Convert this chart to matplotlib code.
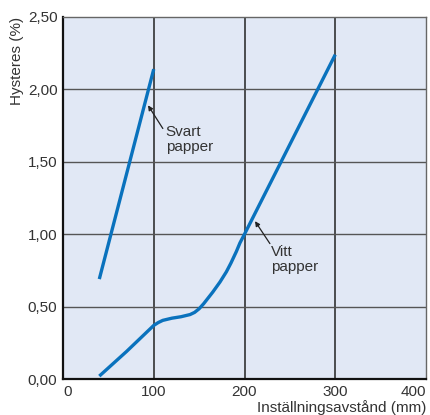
import matplotlib
matplotlib.use("Agg")
import matplotlib.pyplot as plt

# Hysteresis versus setting distance for black and white paper
svart_x = [40, 100]
svart_y = [0.69, 2.14]

vitt_x = [40, 70, 100, 105, 110, 120, 130, 140, 145, 150, 155, 160, 165, 173, 180,
          185, 191, 195, 200, 250, 300]
vitt_y = [0.02, 0.19, 0.37, 0.39, 0.405, 0.42, 0.43, 0.445, 0.46, 0.485, 0.52, 0.56,
          0.60, 0.67, 0.74, 0.80, 0.88, 0.94, 1.00, 1.62, 2.24]

x_ticks = [0, 100, 200, 300, 400]
x_tick_labels = ["0", "100", "200", "300", "400"]
y_ticks = [0.0, 0.5, 1.0, 1.5, 2.0, 2.5]
y_tick_labels = ["0,00", "0,50", "1,00", "1,50", "2,00", "2,50"]

plt.rcParams["font.family"] = ["Liberation Sans", "DejaVu Sans"]
text_col = "#333333"
line_col = "#0a72bd"
fs = 11

fig = plt.figure(figsize=(4.30, 4.15), dpi=100)
ax = fig.add_axes([63 / 430, 1 - 379 / 415, 363 / 430, 362 / 415])
ax.set_facecolor("#e1e8f5")
ax.set_xlim(0, 400)
ax.set_ylim(0, 2.5)

# grid
for xv in x_ticks[1:-1]:
    ax.axvline(xv, color="#222222", lw=1.1, zorder=1)
for yv in y_ticks[1:-1]:
    ax.axhline(yv, color="#555555", lw=1.0, zorder=1)

ax.plot(svart_x, svart_y, color=line_col, lw=2.4, solid_capstyle="butt", zorder=3)
ax.plot(vitt_x, vitt_y, color=line_col, lw=2.4, solid_capstyle="butt",
        solid_joinstyle="round", zorder=3)

for side in ["left", "bottom"]:
    ax.spines[side].set_color("#111111")
    ax.spines[side].set_linewidth(1.6)
for side in ["top", "right"]:
    ax.spines[side].set_color("#666666")
    ax.spines[side].set_linewidth(1.0)

ax.set_xticks(x_ticks)
ax.set_xticklabels(x_tick_labels)
ax.set_yticks(y_ticks)
ax.set_yticklabels(y_tick_labels)
ax.tick_params(length=0, labelsize=fs, colors=text_col, pad=4)
labels = ax.get_xticklabels()
labels[0].set_horizontalalignment("left")
labels[-1].set_horizontalalignment("right")

fig.text(426 / 430, 1 - 408 / 415, "Inställningsavstånd (mm)", ha="right", va="center",
         fontsize=fs, color=text_col)
fig.text(17 / 430, 1 - 17 / 415, "Hysteres (%)", ha="center", va="top", rotation=90,
         fontsize=fs, color=text_col)

arrow = dict(arrowstyle="-|>", color="#222222", lw=0.9, mutation_scale=7, shrinkA=0, shrinkB=0)
ax.annotate("", xy=(93.7, 1.89), xytext=(110, 1.73), arrowprops=arrow)
ax.text(113, 1.755, "Svart\npapper", ha="left", va="top", fontsize=fs, color=text_col,
        linespacing=1.1)
ax.annotate("", xy=(211.6, 1.09), xytext=(228, 0.935), arrowprops=arrow)
ax.text(229.5, 0.925, "Vitt\npapper", ha="left", va="top", fontsize=fs, color=text_col,
        linespacing=1.1)

fig.savefig("out.png", dpi=100)
